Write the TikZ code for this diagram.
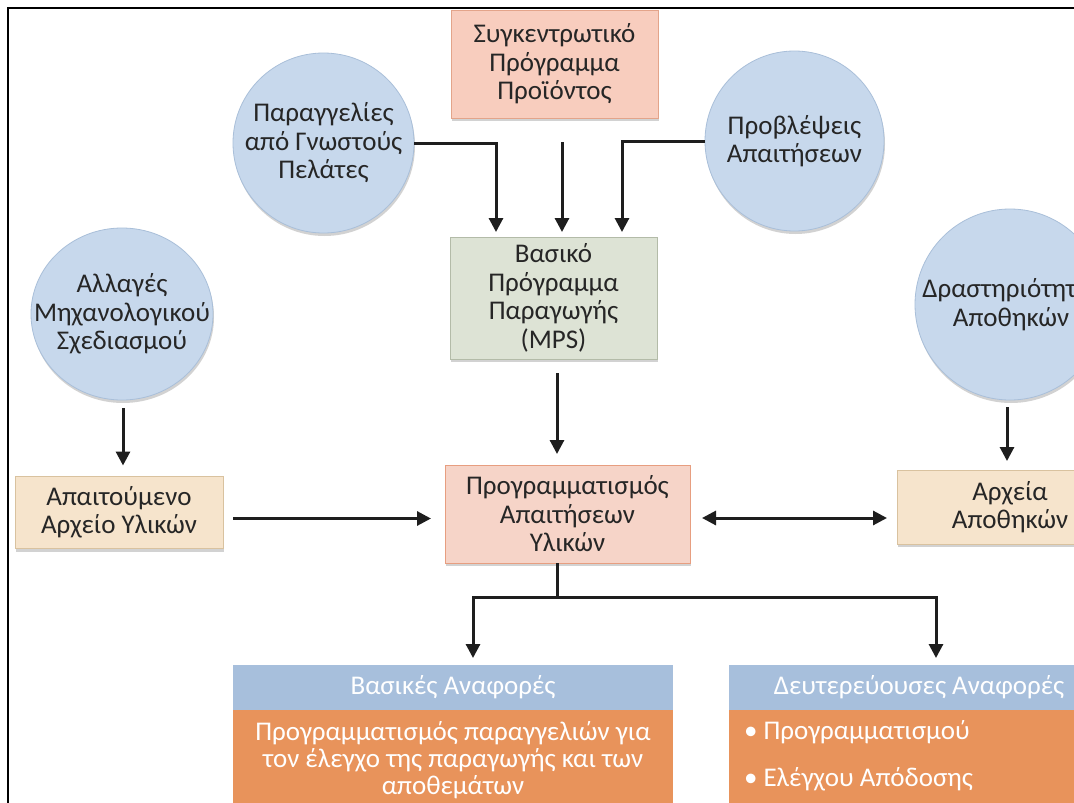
\documentclass[tikz,border=0pt]{standalone}
\usepackage{fontspec}
\setmainfont{Carlito}
\usetikzlibrary{shapes.geometric,arrows.meta,shadows,calc}

\definecolor{ink}{HTML}{262626}
\definecolor{arrowc}{HTML}{1E1E1E}
\definecolor{bubblefill}{HTML}{C7D8EC}
\definecolor{bubbleline}{HTML}{A9BFD9}
\definecolor{salmonfill}{HTML}{F8CDBE}
\definecolor{salmonline}{HTML}{E3A48A}
\definecolor{mpsfill}{HTML}{DDE3D5}
\definecolor{mpsline}{HTML}{B3BBA8}
\definecolor{mrpfill}{HTML}{F6D4C8}
\definecolor{mrpline}{HTML}{E79E80}
\definecolor{filefill}{HTML}{F6E4CC}
\definecolor{fileline}{HTML}{D9C29F}
\definecolor{headfill}{HTML}{A7BFDC}
\definecolor{bodyfill}{HTML}{E8935B}

\begin{document}
\begin{tikzpicture}[x=1pt,y=-1pt,
  every node/.style={inner sep=0pt, outer sep=0pt},
  txt/.style={font=\fontsize{27}{28.5}\selectfont, text=ink, align=center},
  wtxt/.style={font=\fontsize{27}{27}\selectfont, text=white, align=center},
  shade/.style={drop shadow={opacity=0.35, shadow xshift=1pt, shadow yshift=-3pt}},
  bubble/.style={ellipse, fill=bubblefill, draw=bubbleline, line width=0.8pt, shade},
  box/.style={rectangle, line width=0.8pt, shade, txt},
  arr/.style={draw=arrowc, line width=3pt, -{Triangle[length=14pt,width=14pt]}},
  wire/.style={draw=arrowc, line width=3pt},
  dbl/.style={draw=arrowc, line width=3pt, {Triangle[length=14pt,width=14pt]}-{Triangle[length=14pt,width=14pt]}}
]
\useasboundingbox (0,0) rectangle (1074,803);
\clip (0,0) rectangle (1074,803);
\fill[white] (0,0) rectangle (1074,803);

% outer frame
\draw[line width=1.6pt, black] (8,810) -- (8,8) -- (1080,8);

% input bubbles
\node[bubble, minimum width=181pt, minimum height=180pt] (orders) at (323.5,143) {};
\node[txt] (orders-t) at (orders) {Παραγγελίες\\από Γνωστούς\\Πελάτες};
\node[bubble, minimum width=179pt, minimum height=180pt] (fore) at (794.5,141) {};
\node[txt] (fore-t) at (fore) {Προβλέψεις\\Απαιτήσεων};
\node[bubble, minimum width=182pt, minimum height=172pt] (eng) at (122,314) {};
\node[txt] (eng-t) at (eng) {Αλλαγές\\Μηχανολογικού\\Σχεδιασμού};
\node[bubble, minimum width=190pt, minimum height=191pt] (wh) at (1010,304.5) {};
\node[txt] (wh-t) at (1011,304.5) {Δραστηριότητες\\Αποθηκών};

% planning boxes
\node[box, fill=salmonfill, draw=salmonline, minimum width=207pt, minimum height=108pt] (prod) at (554.5,64) {Συγκεντρωτικό\\Πρόγραμμα\\Προϊόντος};
\node[box, fill=mpsfill, draw=mpsline, minimum width=207pt, minimum height=122pt] (mps) at (553.5,298) {Βασικό\\Πρόγραμμα\\Παραγωγής\\(MPS)};
\node[box, fill=mrpfill, draw=mrpline, minimum width=245pt, minimum height=98pt] (mrp) at (567.5,514) {Προγραμματισμός\\Απαιτήσεων\\Υλικών};
\node[box, fill=filefill, draw=fileline, minimum width=208pt, minimum height=72pt] (bom) at (119,512.5) {Απαιτούμενο\\Αρχείο Υλικών};
\node[box, fill=filefill, draw=fileline, minimum width=226pt, minimum height=74pt] (inv) at (1010,507) {Αρχεία\\Αποθηκών};

% report panels
\node[rectangle, fill=headfill, minimum width=440pt, minimum height=45pt, wtxt] (rep1h) at (453,687.5) {Βασικές Αναφορές};
\node[rectangle, fill=bodyfill, minimum width=440pt, minimum height=120pt, anchor=north] (rep1b) at (rep1h.south) {};
\node[wtxt] (rep1t) at (453,760) {Προγραμματισμός παραγγελιών για\\τον έλεγχο της παραγωγής και των\\αποθεμάτων};
\node[rectangle, fill=headfill, minimum width=380pt, minimum height=45pt, wtxt] (rep2h) at (919,687.5) {Δευτερεύουσες Αναφορές};
\node[rectangle, fill=bodyfill, minimum width=380pt, minimum height=120pt, anchor=north] (rep2b) at (rep2h.south) {};
\node[wtxt, anchor=west] (rep2a) at (744,732) {• Προγραμματισμού};
\node[wtxt, anchor=west] (rep2c) at (744,779) {• Ελέγχου Απόδοσης};

% connectors into the MPS
\draw[arr] (orders.east) -| ([xshift=-57.5pt,yshift=5pt]mps.north);
\draw[arr] ([xshift=7.5pt,yshift=-24pt]prod.south) -- ([xshift=8.5pt,yshift=5pt]mps.north);
\draw[arr] (fore.west) -| ([xshift=68.5pt,yshift=5pt]mps.north);

% MPS to MRP
\draw[arr] ([xshift=3.5pt,yshift=-14pt]mps.south) coordinate (m1) -- (m1 |- mrp.north) [shorten >=11pt];

% side inputs
\draw[arr, shorten <=8pt, shorten >=11pt] ([xshift=1pt]eng.south) -- ([xshift=1pt]eng.south |- bom.north);
\draw[arr, shorten >=14pt] ([xshift=10pt,yshift=-6pt]bom.east) coordinate (b1) -- (b1 -| mrp.west);
\draw[dbl, shorten <=12pt, shorten >=10pt] ([yshift=-4pt]mrp.east) coordinate (r1) -- (r1 -| inv.west);
\draw[arr, shorten <=7pt, shorten >=9pt] ([xshift=-3pt]wh.south) -- ([xshift=-3pt]wh.south |- inv.north);

% MRP outputs
\draw[wire] ([xshift=-10.5pt]mrp.south) -- ++(0,34) coordinate (split);
\draw[arr, shorten >=7pt] (split) -| ([xshift=20pt]rep1h.north);
\draw[arr, shorten >=7pt] (split) -| ([xshift=17pt]rep2h.north);
\end{tikzpicture}
\end{document}
